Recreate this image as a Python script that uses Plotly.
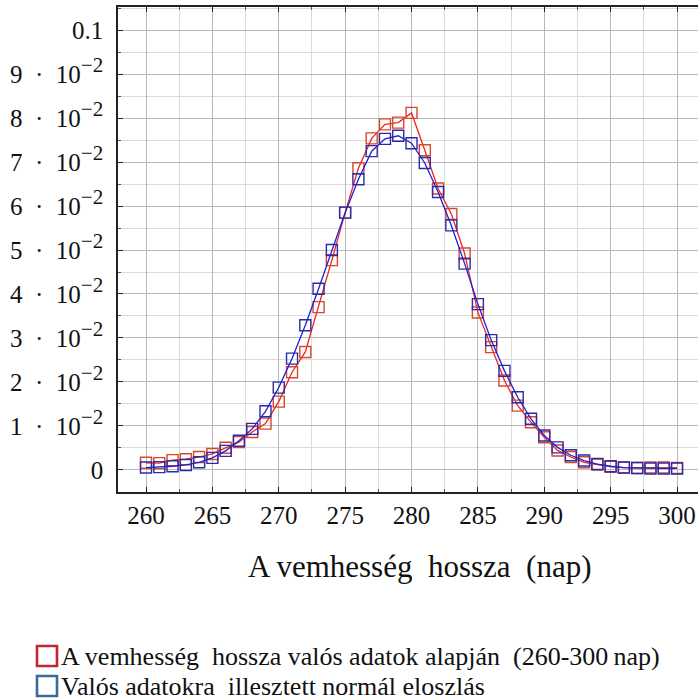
import plotly.graph_objects as go

# Gestation length (days)
days = list(range(260, 301))

# Observed relative frequency of gestation length
observed = [
    0.0016, 0.0015, 0.0022, 0.0024, 0.0029, 0.0036, 0.0050, 0.0063, 0.0086, 0.0105,
    0.0155, 0.0222, 0.0268, 0.0370, 0.0477, 0.0585, 0.0686, 0.0754, 0.0786, 0.0790,
    0.0812, 0.0727, 0.0640, 0.0582, 0.0492, 0.0358, 0.0279, 0.0203, 0.0146, 0.0108,
    0.0074, 0.0044, 0.0029, 0.0017, 0.0012, 0.0007, 0.0005, 0.0004, 0.0005, 0.0005,
    0.0004,
]

# Fitted normal distribution evaluated at the same days
fitted = [
    0.0005, 0.0006, 0.0008, 0.0011, 0.0017, 0.0027, 0.0043, 0.0066, 0.0093, 0.0133,
    0.0187, 0.0253, 0.0329, 0.0412, 0.0500, 0.0585, 0.0661, 0.0725, 0.0753, 0.0760,
    0.0743, 0.0698, 0.0632, 0.0556, 0.0469, 0.0377, 0.0295, 0.0225, 0.0165, 0.0116,
    0.0078, 0.0051, 0.0033, 0.0021, 0.0013, 0.0008, 0.0005, 0.0004, 0.0003, 0.0003,
    0.0003,
]

x_ticks = [260, 265, 270, 275, 280, 285, 290, 295, 300]
y_ticks = [0, 0.01, 0.02, 0.03, 0.04, 0.05, 0.06, 0.07, 0.08, 0.09, 0.1]
y_tick_text = (["0"]
               + [f"{k}\u2002·\u200210<sup><span style='font-size:21px'>−2</span></sup>"
                  for k in range(1, 10)]
               + ["0.1"])

x_title = "A vemhesség  hossza  (nap)"
legend_labels = [
    "A vemhesség  hossza valós adatok alapján  (260-300\u2009nap)",
    "Valós adatokra  illesztett normál eloszlás",
]
legend_colors = ["#c1272d", "#3b6c99"]

SERIF = "Liberation Serif"

W, H = 698, 700
ML, MR, MT, MB = 118, 0, 7, 208
PW, PH = W - ML - MR, H - MT - MB


def px_to_paper(px, py):
    return (px - ML) / PW, 1 - (py - MT) / PH


fig = go.Figure()

fig.add_trace(go.Scatter(
    x=days, y=observed, mode="lines+markers",
    line=dict(color="#e8281e", width=1.3),
    marker=dict(symbol="square-open", size=11, color="#d9472b", line=dict(width=1.4)),
    showlegend=False,
))
fig.add_trace(go.Scatter(
    x=days, y=fitted, mode="lines+markers",
    line=dict(color="#1f1fd6", width=1.3),
    marker=dict(symbol="square-open", size=11, color="#2b2ba8", line=dict(width=1.4)),
    showlegend=False,
))

shapes, annotations = [], []

# x-axis title
tx, ty = px_to_paper(420, 566)
annotations.append(dict(xref="paper", yref="paper", x=tx, y=ty,
                        xanchor="center", yanchor="middle", showarrow=False,
                        text=x_title, font=dict(family=SERIF, size=31, color="#111111")))

# Legend below the chart: open square key + label
for i, (label, col) in enumerate(zip(legend_labels, legend_colors)):
    cy = 656 + 30 * i
    x0, y0 = px_to_paper(37, cy - 10)
    x1, y1 = px_to_paper(57, cy + 10)
    shapes.append(dict(type="rect", xref="paper", yref="paper",
                       x0=x0, x1=x1, y0=y0, y1=y1,
                       line=dict(color=col, width=2.6), fillcolor="white"))
    tx, ty = px_to_paper(59, cy)
    annotations.append(dict(xref="paper", yref="paper", x=tx, y=ty,
                            xanchor="left", yanchor="middle", showarrow=False,
                            text=label, font=dict(family=SERIF, size=26, color="#111111")))

fig.update_layout(
    width=W, height=H,
    margin=dict(l=ML, r=MR, t=MT, b=MB, autoexpand=False),
    paper_bgcolor="white", plot_bgcolor="white",
    font=dict(family=SERIF, color="#111111", size=25),
    showlegend=False,
    shapes=shapes, annotations=annotations,
    xaxis=dict(
        range=[257.89, 301.58],
        tickvals=x_ticks, ticktext=[str(v) for v in x_ticks],
        ticks="inside", ticklen=5, tickcolor="#222", tickwidth=1,
        showline=True, linecolor="#222", linewidth=1.6, mirror="ticks",
        showgrid=True, gridcolor="#b8b8b8", gridwidth=1.3,
        minor=dict(dtick=2.5, tick0=260, showgrid=True, gridcolor="#dcdcdc", gridwidth=1,
                   ticks="inside", ticklen=3, tickcolor="#555"),
        zeroline=False,
        tickfont=dict(family=SERIF, size=25, color="#111111"),
    ),
    yaxis=dict(
        range=[-0.00506, 0.1053],
        tickvals=y_ticks, ticktext=y_tick_text,
        ticks="inside", ticklen=5, tickcolor="#222", tickwidth=1,
        showline=True, linecolor="#222", linewidth=1.6, mirror=False,
        showgrid=True, gridcolor="#b8b8b8", gridwidth=1.3,
        minor=dict(dtick=0.005, tick0=0, showgrid=True, gridcolor="#dcdcdc", gridwidth=1,
                   ticks="inside", ticklen=3, tickcolor="#555"),
        zeroline=False,
        ticklabelstandoff=8,
        tickfont=dict(family=SERIF, size=25, color="#111111"),
    ),
)

fig.write_html("out.html")
